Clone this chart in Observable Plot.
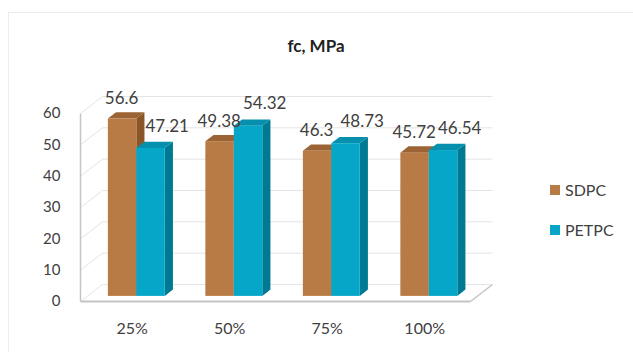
<!DOCTYPE html>
<html>
<head>
<meta charset="utf-8">
<script src="https://cdn.jsdelivr.net/npm/d3@7"></script>
<script src="https://cdn.jsdelivr.net/npm/@observablehq/plot@0.6"></script>
<style>
  html, body { margin: 0; padding: 0; background: #fff; }
  #wrap { position: relative; width: 633px; height: 352px; overflow: hidden; background: #fff; font-family: Lato, "Open Sans", sans-serif; }
  #wrap svg { position: absolute; left: 0; top: 0; }
  #frame { position: absolute; left: 8px; top: 12px; right: -2px; bottom: -2px; border-top: 1px solid #ececec; border-left: 1px solid #ececec; pointer-events: none; }
  #title { position: absolute; left: 0; width: 632px; top: 35px; text-align: center; font-weight: bold; font-size: 17px; color: #222; }
  .leg { position: absolute; left: 550px; font-size: 16px; color: #404040; display: flex; align-items: center; }
  .sw { width: 10px; height: 10px; margin-right: 5px; display: inline-block; }
</style>
</head>
<body>
<div id="wrap">
  <div id="frame"></div>
  <div id="title">fc, MPa</div>
  <div class="leg" style="top:180px"><span class="sw" style="background:#B97B45"></span>SDPC</div>
  <div class="leg" style="top:220px"><span class="sw" style="background:#06A6C9"></span>PETPC</div>
</div>
<script>
// ---- data ----
const categories = ["25%", "50%", "75%", "100%"];
const SDPC = [56.6, 49.38, 46.3, 45.72];
const PETPC = [47.21, 54.32, 48.73, 46.54];
const yTicks = [0, 10, 20, 30, 40, 50, 60];

// ---- colours ----
const colors = {
  SDPC: {front: "#B97B45", side: "#8A5628", top: "#9C6434"},
  PETPC: {front: "#06A6C9", side: "#007A92", top: "#0790AE"}
};

// ---- oblique 3D geometry (in data units) ----
const DX = 0.2256;   // x shift for full depth
const DY = 5.43;     // y shift for full depth
const d0 = 0.3, d1 = 0.67;   // bar front / back depth fraction
const barW = 0.292;
const n = categories.length;

function barsFor(name, values, side) {
  return values.map((v, i) => {
    const gc = i + 0.51;
    const xl = side === 0 ? gc - barW : gc;
    const xr = xl + barW;
    return {id: name + i, name, v, xl, xr};
  });
}
const series = [
  {name: "SDPC", bars: barsFor("SDPC", SDPC, 0), dx: -5, dy: -14},
  {name: "PETPC", bars: barsFor("PETPC", PETPC, 1), dx: 12, dy: -16}
];

const faceMarks = [];
for (const s of series) {
  const c = colors[s.name];
  const sidePts = s.bars.flatMap(b => [
    {id: b.id, x: b.xr + d0 * DX, y1: d0 * DY, y2: b.v + d0 * DY},
    {id: b.id, x: b.xr + d1 * DX, y1: d1 * DY, y2: b.v + d1 * DY}
  ]);
  const topPts = s.bars.flatMap(b => [
    {id: b.id, y: b.v + d0 * DY, x1: b.xl + d0 * DX, x2: b.xr + d0 * DX},
    {id: b.id, y: b.v + d1 * DY, x1: b.xl + d1 * DX, x2: b.xr + d1 * DX}
  ]);
  faceMarks.push(
    Plot.areaY(sidePts, {x: d => d.x, y1: d => d.y1, y2: d => d.y2, z: d => d.id, fill: c.side}),
    Plot.areaX(topPts, {y: d => d.y, x1: d => d.x1, x2: d => d.x2, z: d => d.id, fill: c.top}),
    Plot.rect(s.bars, {x1: b => b.xl + d0 * DX, x2: b => b.xr + d0 * DX, y1: b => d0 * DY, y2: b => b.v + d0 * DY, fill: c.front})
  );
}
const dm = (d0 + d1) / 2;
const labelMarks = series.map(s => Plot.text(s.bars, {
  x: b => (b.xl + b.xr) / 2 + dm * DX,
  y: b => b.v + d1 * DY,
  text: b => String(b.v),
  dx: s.dx, dy: s.dy,
  fontSize: 17, fill: "#404040"
}));

const floorFront = [{x1: 0, x2: n}];
const chart = Plot.plot({
  width: 633,
  height: 352,
  marginLeft: 80,
  marginRight: 163,
  marginTop: 113,
  marginBottom: 51,
  x: {domain: [0, n], axis: null},
  y: {domain: [0, 60]},
  style: {background: "transparent", fontFamily: "Lato, 'Open Sans', sans-serif"},
  marks: [
    // back wall gridlines
    Plot.link(yTicks, {x1: d => DX, y1: d => d + DY, x2: d => n + DX, y2: d => d + DY, stroke: "#e4e4e4", strokeWidth: 1}),
    // left wall diagonals
    Plot.link(yTicks, {x1: d => 0, y1: d => d, x2: d => DX, y2: d => d + DY, stroke: "#e4e4e4", strokeWidth: 1}),
    // floor edges
    Plot.link(floorFront, {x1: d => d.x2, y1: d => 0, x2: d => d.x2 + DX, y2: d => DY, stroke: "#c4c4c4", strokeWidth: 1.5}),
    Plot.link(floorFront, {x1: d => d.x1, y1: d => 0, x2: d => d.x2, y2: d => 0, stroke: "#c4c4c4", strokeWidth: 2}),
    Plot.link(floorFront, {x1: d => d.x1, y1: d => 0, x2: d => d.x1, y2: d => 60, stroke: "#c4c4c4", strokeWidth: 1.5}),
    Plot.axisY({ticks: yTicks, tickSize: 0, tickPadding: 20, fontSize: 15, color: "#404040", label: null}),
    Plot.text(categories, {x: (d, i) => i + 0.53, y: d => 0, dy: 27, fontSize: 16, fill: "#404040"}),
    ...faceMarks,
    ...labelMarks
  ]
});
document.getElementById("wrap").prepend(chart);
</script>
</body>
</html>
